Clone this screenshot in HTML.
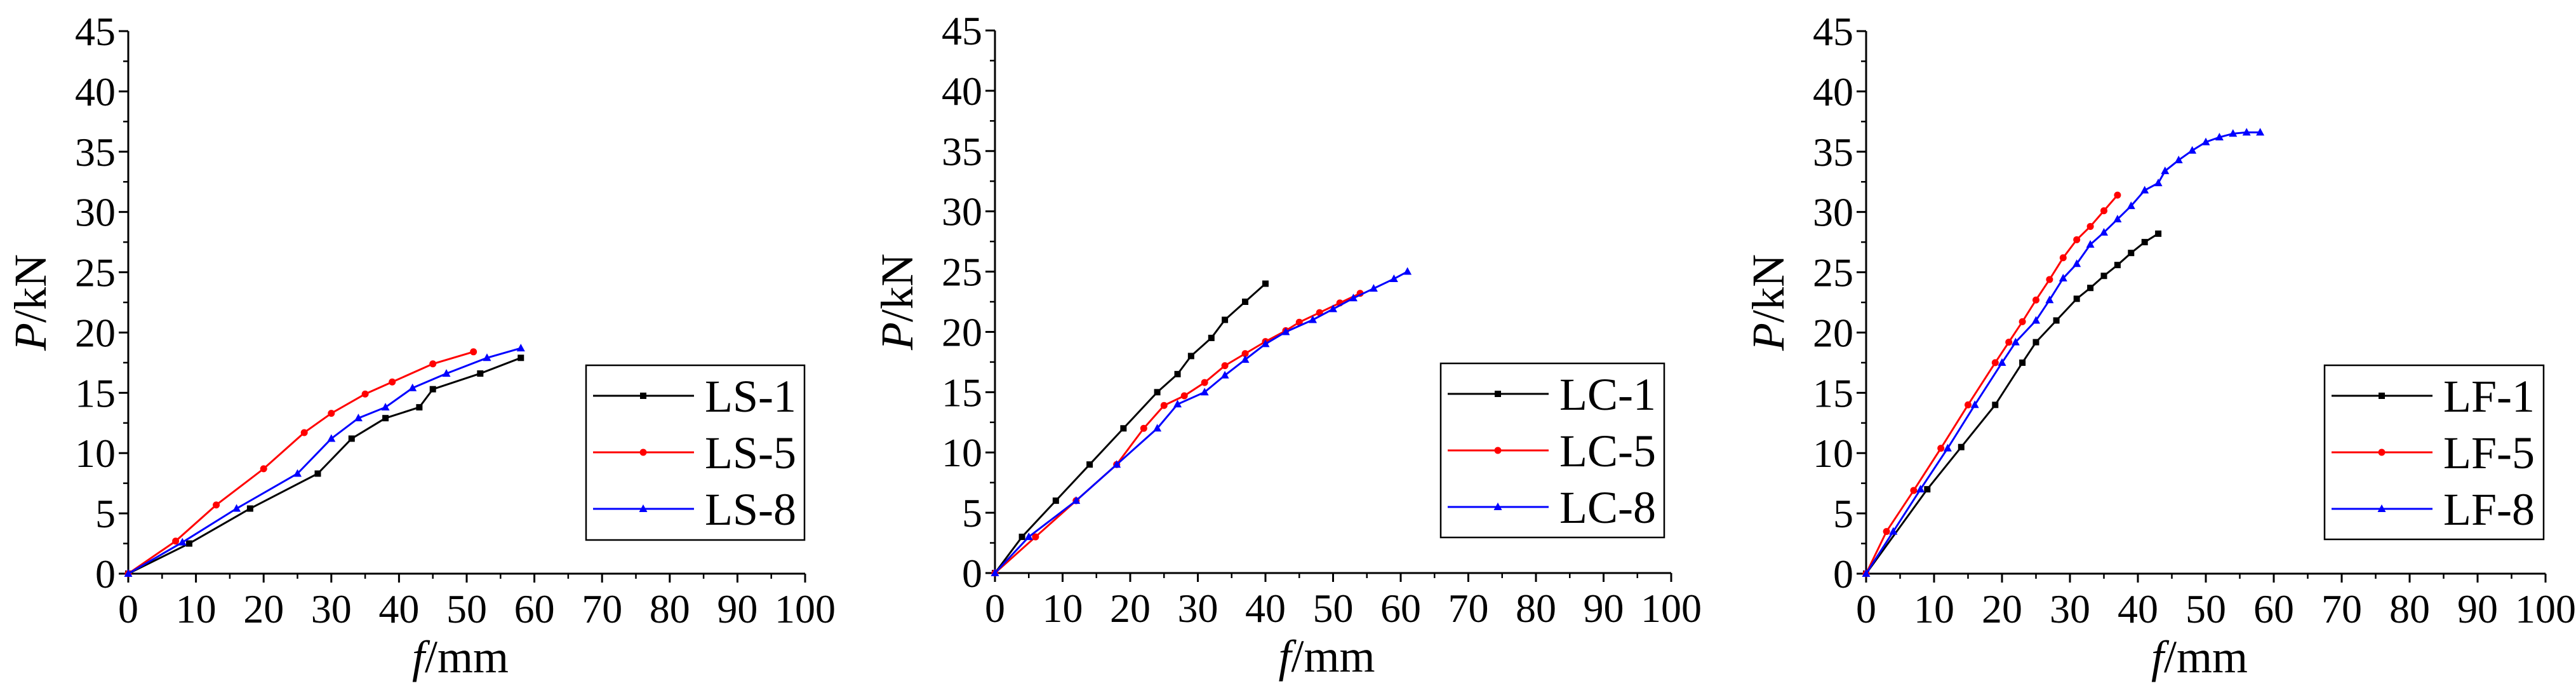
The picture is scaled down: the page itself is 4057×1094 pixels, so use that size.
<!DOCTYPE html>
<html><head><meta charset="utf-8"><style>
html,body{margin:0;padding:0;background:#fff;}
svg{display:block;font-family:"Liberation Serif",serif;}
</style></head><body>
<svg id="fig" width="4057" height="1094" viewBox="0 0 4057 1094" xmlns="http://www.w3.org/2000/svg"></svg>
<script>
const xTicks=[0,10,20,30,40,50,60,70,80,90,100];
const yTicks=[0,5,10,15,20,25,30,35,40,45];
const ls1X=[0,9,18,28,33,38,43,45,52,58];
const ls1Y=[0,2.5,5.4,8.3,11.2,12.9,13.8,15.3,16.6,17.9];
const ls5X=[0,7,13,20,26,30,35,39,45,51];
const ls5Y=[0,2.7,5.7,8.7,11.7,13.3,14.9,15.9,17.4,18.4];
const ls8X=[0,8,16,25,30,34,38,42,47,53,58];
const ls8Y=[0,2.6,5.4,8.3,11.2,12.9,13.8,15.4,16.6,17.9,18.7];
const lc1X=[0,4,9,14,19,24,27,29,32,34,37,40];
const lc1Y=[0,3,6,9,12,15,16.5,18,19.5,21,22.5,24];
const lc5X=[0,6,12,18,22,25,28,31,34,37,40,43,45,48,51,54];
const lc5Y=[0,3,6,9,12,13.9,14.7,15.8,17.2,18.2,19.2,20.1,20.8,21.6,22.4,23.2];
const lc8X=[0,5,12,18,24,27,31,34,37,40,43,47,50,53,56,59,61];
const lc8Y=[0,3,6,9,12,14,15,16.4,17.7,19,20,21,21.9,22.8,23.6,24.4,25];
const lf1X=[0,9,14,19,23,25,28,31,33,35,37,39,41,43];
const lf1Y=[0,7,10.5,14,17.5,19.2,21,22.8,23.7,24.7,25.6,26.6,27.5,28.2];
const lf5X=[0,3,7,11,15,19,21,23,25,27,29,31,33,35,37];
const lf5Y=[0,3.5,6.9,10.4,14,17.5,19.2,20.9,22.7,24.4,26.2,27.7,28.8,30.1,31.4];
const lf8X=[0,4,8,12,16,20,22,25,27,29,31,33,35,37,39,41,43,44,46,48,50,52,54,56,58];
const lf8Y=[0,3.5,7,10.4,14,17.5,19.2,21,22.7,24.5,25.7,27.3,28.3,29.4,30.5,31.8,32.4,33.4,34.3,35.1,35.8,36.2,36.5,36.6,36.6];

const NS="http://www.w3.org/2000/svg";
const svg=document.getElementById('fig');
function mk(tag,attrs,parent){const e=document.createElementNS(NS,tag);for(const k in attrs)e.setAttribute(k,attrs[k]);(parent||svg).appendChild(e);return e;}

const panels=[
 {id:'ls',x0:202,x1:1268,y0:903,y1:49,leg:[923,575,344,275],series:[['LS-1',ls1X,ls1Y,'#000','square'],['LS-5',ls5X,ls5Y,'#f00','circle'],['LS-8',ls8X,ls8Y,'#00f','triangle']]},
 {id:'lc',x0:1567,x1:2632,y0:902,y1:48,leg:[2269,572,352,274],series:[['LC-1',lc1X,lc1Y,'#000','square'],['LC-5',lc5X,lc5Y,'#f00','circle'],['LC-8',lc8X,lc8Y,'#00f','triangle']]},
 {id:'lf',x0:2939,x1:4009,y0:903,y1:49,leg:[3661,575,345,274],series:[['LF-1',lf1X,lf1Y,'#000','square'],['LF-5',lf5X,lf5Y,'#f00','circle'],['LF-8',lf8X,lf8Y,'#00f','triangle']]}
];

function marker(g,type,x,y,color){
  let m;
  if(type==='square') m=mk('rect',{x:x-5,y:y-5,width:10,height:10,fill:color},g);
  else if(type==='circle') m=mk('circle',{cx:x,cy:y,r:5.5,fill:color},g);
  else m=mk('polygon',{points:`${x},${y-7} ${x-6.5},${y+5} ${x+6.5},${y+5}`,fill:color},g);
  
  
}

panels.forEach(p=>{
  const g=mk('g',{});
  
  
  const sx=v=>p.x0+(p.x1-p.x0)*v/100;
  const sy=v=>p.y0+(p.y1-p.y0)*v/45;
  // axes
  const ax=mk('path',{d:`M${p.x0},${p.y1} V${p.y0} H${p.x1}`,stroke:'#000','stroke-width':3,fill:'none'},g);
  
  
  // y ticks
  yTicks.forEach((t,i)=>{
    const y=sy(t);
    mk('line',{x1:p.x0-15,x2:p.x0,y1:y,y2:y,stroke:'#000','stroke-width':3},g);
    if(i<yTicks.length-1){const ym=sy(t+2.5);mk('line',{x1:p.x0-8,x2:p.x0,y1:ym,y2:ym,stroke:'#000','stroke-width':2.5},g);}
    const tx=mk('text',{x:p.x0-20,y:y+22,'text-anchor':'end','font-size':64,fill:'#000'},g);
    tx.textContent=t;
    
    
  });
  xTicks.forEach((t,i)=>{
    const x=sx(t);
    mk('line',{x1:x,x2:x,y1:p.y0,y2:p.y0+14,stroke:'#000','stroke-width':3},g);
    if(i<xTicks.length-1){const xm=sx(t+5);mk('line',{x1:xm,x2:xm,y1:p.y0,y2:p.y0+8,stroke:'#000','stroke-width':2.5},g);}
    const tx=mk('text',{x:x,y:p.y0+77,'text-anchor':'middle','font-size':64,fill:'#000'},g);
    tx.textContent=t;
    
    
  });
  // axis titles
  const yt=mk('text',{x:0,y:0,transform:`translate(${p.x0-130},${(p.y0+p.y1)/2}) rotate(-90)`,'text-anchor':'middle','font-size':72,fill:'#000'},g);
  yt.innerHTML='<tspan font-style="italic">P</tspan>/kN';
  
  
  const xt=mk('text',{x:(p.x0+p.x1)/2-10,y:p.y0+155,'text-anchor':'middle','font-size':72,fill:'#000'},g);
  xt.innerHTML='<tspan font-style="italic">f</tspan>/mm';
  
  
  // series
  p.series.forEach(s=>{
    const [name,X,Y,color,type]=s;
    const sg=mk('g',{},g);
    
    
    const pts=X.map((v,i)=>sx(v)+','+sy(Y[i])).join(' ');
    mk('polyline',{points:pts,fill:'none',stroke:color,'stroke-width':3},sg);
    X.forEach((v,i)=>marker(sg,type,sx(v),sy(Y[i]),color));
  });
  // legend
  const [lx,ly,lw,lh]=p.leg;
  const lg=mk('g',{},g);
  
  
  mk('rect',{x:lx,y:ly,width:lw,height:lh,fill:'#fff',stroke:'#000','stroke-width':2.5},lg);
  p.series.forEach((s,i)=>{
    const yy=ly+48+i*89;
    const eg=mk('g',{},lg);
    
    
    mk('line',{x1:lx+11,x2:lx+170,y1:yy,y2:yy,stroke:s[3],'stroke-width':3},eg);
    marker(eg,s[4],lx+90,yy,s[3]);
    const t=mk('text',{x:lx+187,y:yy+25,'font-size':72,fill:'#000'},eg);
    t.textContent=s[0];
  });
});
</script>
</body></html>
